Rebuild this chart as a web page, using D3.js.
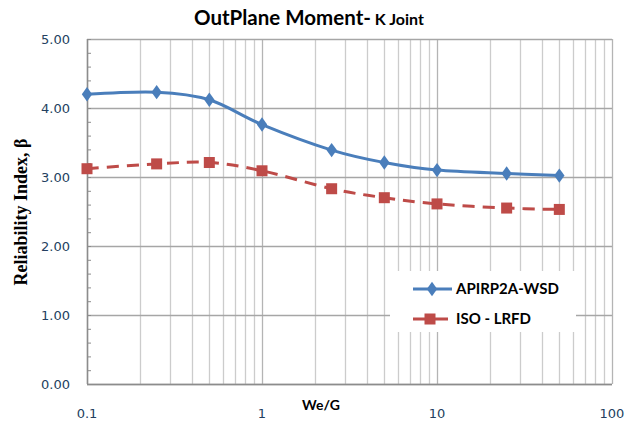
<!DOCTYPE html>
<html>
<head>
<meta charset="utf-8">
<script src="https://cdn.jsdelivr.net/npm/d3@7"></script>
<style>
  body { margin: 0; background: #fff; }
  svg { display: block; }
</style>
</head>
<body>
<div id="chart"></div>
<script>
// chart data
var weG = [0.1, 0.25, 0.5, 1, 2.5, 5, 10, 25, 50];
var apiValues = [4.20, 4.23, 4.12, 3.76, 3.39, 3.21, 3.10, 3.05, 3.02];
var isoValues = [3.12, 3.19, 3.21, 3.09, 2.83, 2.70, 2.61, 2.55, 2.53];
var seriesNames = ["APIRP2A-WSD", "ISO - LRFD"];
var yTicks = [0, 1, 2, 3, 4, 5];
var xTickLabels = [0.1, 1, 10, 100];

var W = 634, H = 425;
var margin = {top: 39, right: 22, bottom: 41, left: 87},
    width = W - margin.left - margin.right,
    height = H - margin.top - margin.bottom;

var blue = "#4a7ebb", red = "#be4b48";
var tickColor = "#243f60";

var svg = d3.select("#chart")
    .append("svg")
    .attr("width", W)
    .attr("height", H);

var g = svg.append("g")
    .attr("transform", "translate(" + margin.left + "," + margin.top + ")");

var x = d3.scaleLog()
    .domain([0.1, 100])
    .range([0, width]);

var y = d3.scaleLinear()
    .domain([0, 5])
    .range([height, 0]);

// vertical grid lines at every log tick
g.append("g")
    .selectAll("line")
    .data(x.ticks())
    .enter()
    .append("line")
    .attr("x1", function(d) { return Math.round(x(d)) + 0.5; })
    .attr("x2", function(d) { return Math.round(x(d)) + 0.5; })
    .attr("y1", 0)
    .attr("y2", height)
    .attr("stroke", function(d) { return xTickLabels.indexOf(d) >= 0 ? "#b4b4b4" : "#cccccc"; })
    .attr("stroke-width", 1.3);

// horizontal grid lines
g.append("g")
    .selectAll("line")
    .data(yTicks)
    .enter()
    .append("line")
    .attr("x1", 0)
    .attr("x2", width)
    .attr("y1", function(d) { return Math.round(y(d)) + 0.5; })
    .attr("y2", function(d) { return Math.round(y(d)) + 0.5; })
    .attr("stroke", "#a6a6a6")
    .attr("stroke-width", 1.3);

// y axis with minor ticks pointing inside
var yAxis = g.append("g")
    .call(d3.axisRight(y)
        .tickValues(d3.range(0, 5.01, 0.2))
        .tickSize(4)
        .tickFormat(""));
yAxis.select(".domain").remove();
yAxis.selectAll("line").attr("stroke", "#8c8c8c");

g.append("line")
    .attr("x1", 0.5).attr("x2", 0.5)
    .attr("y1", 0).attr("y2", height)
    .attr("stroke", "#8c8c8c").attr("stroke-width", 1.5);
g.append("line")
    .attr("x1", 0).attr("x2", width)
    .attr("y1", height + 0.5).attr("y2", height + 0.5)
    .attr("stroke", "#8c8c8c").attr("stroke-width", 1.5);

// y tick labels
g.append("g")
    .selectAll("text")
    .data(yTicks)
    .enter()
    .append("text")
    .attr("x", -17)
    .attr("y", function(d) { return y(d); })
    .attr("dy", "0.36em")
    .attr("text-anchor", "end")
    .style("font-family", "'DejaVu Sans', sans-serif")
    .style("font-size", "13px")
    .style("fill", tickColor)
    .text(function(d) { return d3.format(".2f")(d); });

// x tick labels
g.append("g")
    .selectAll("text")
    .data(xTickLabels)
    .enter()
    .append("text")
    .attr("x", function(d) { return x(d); })
    .attr("y", height + 34)
    .attr("text-anchor", "middle")
    .style("font-family", "'DejaVu Sans', sans-serif")
    .style("font-size", "13px")
    .style("fill", tickColor)
    .text(function(d) { return d; });

// titles
var title = svg.append("text")
    .attr("x", 194)
    .attr("y", 25)
    .style("font-family", "Lato, 'Open Sans', sans-serif")
    .style("font-weight", "bold")
    .style("fill", "#000");
title.append("tspan").style("font-size", "20.5px").text("OutPlane Moment-");
title.append("tspan").style("font-size", "16px").text(" K Joint");

svg.append("text")
    .attr("x", 321)
    .attr("y", 410)
    .attr("text-anchor", "middle")
    .style("font-family", "Lato, 'Open Sans', sans-serif")
    .style("font-weight", "bold")
    .style("font-size", "14px")
    .text("We/G");

svg.append("text")
    .attr("transform", "translate(27,212) rotate(-90)")
    .attr("text-anchor", "middle")
    .style("font-family", "'Liberation Serif', 'Times New Roman', serif")
    .style("font-weight", "bold")
    .style("font-size", "18px")
    .text("Reliability Index, \u03b2");

// series lines
var line = d3.line()
    .x(function(d) { return x(d[0]); })
    .y(function(d) { return y(d[1]); })
    .curve(d3.curveCatmullRom.alpha(0));

var apiData = d3.zip(weG, apiValues);
var isoData = d3.zip(weG, isoValues);

g.append("path")
    .datum(isoData)
    .attr("d", line)
    .attr("fill", "none")
    .attr("stroke", red)
    .attr("stroke-width", 3)
    .attr("stroke-dasharray", "12,8");

g.append("path")
    .datum(apiData)
    .attr("d", line)
    .attr("fill", "none")
    .attr("stroke", blue)
    .attr("stroke-width", 3);

var diamond = d3.symbol().type(d3.symbolDiamond).size(60);

g.append("g")
    .selectAll("path")
    .data(apiData)
    .enter()
    .append("path")
    .attr("d", diamond)
    .attr("transform", function(d) { return "translate(" + x(d[0]) + "," + y(d[1]) + ") scale(1.25,1)"; })
    .attr("fill", blue);

g.append("g")
    .selectAll("rect")
    .data(isoData)
    .enter()
    .append("rect")
    .attr("x", function(d) { return x(d[0]) - 5.5; })
    .attr("y", function(d) { return y(d[1]) - 5.5; })
    .attr("width", 11)
    .attr("height", 11)
    .attr("fill", red);

// legend
var legend = svg.append("g");
legend.append("rect")
    .attr("x", 390).attr("y", 271)
    .attr("width", 186).attr("height", 61)
    .attr("fill", "#fff");

var legendY = [289, 319];
seriesNames.forEach(function(name, i) {
    var ly = legendY[i];
    var col = i === 0 ? blue : red;
    legend.append("line")
        .attr("x1", 413).attr("x2", i === 0 ? 452 : 448)
        .attr("y1", ly).attr("y2", ly)
        .attr("stroke", col)
        .attr("stroke-width", 3);
    if (i === 0) {
        legend.append("path")
            .attr("d", diamond)
            .attr("transform", "translate(432," + ly + ") scale(1.25,1)")
            .attr("fill", col);
    } else {
        legend.append("rect")
            .attr("x", 430 - 5.5).attr("y", ly - 5.5)
            .attr("width", 11).attr("height", 11)
            .attr("fill", col);
    }
    legend.append("text")
        .attr("x", 456)
        .attr("y", ly + 5)
        .style("font-family", "Lato, 'Open Sans', sans-serif")
        .style("font-weight", "bold")
        .style("font-size", "15px")
        .text(name);
});
</script>
</body>
</html>
